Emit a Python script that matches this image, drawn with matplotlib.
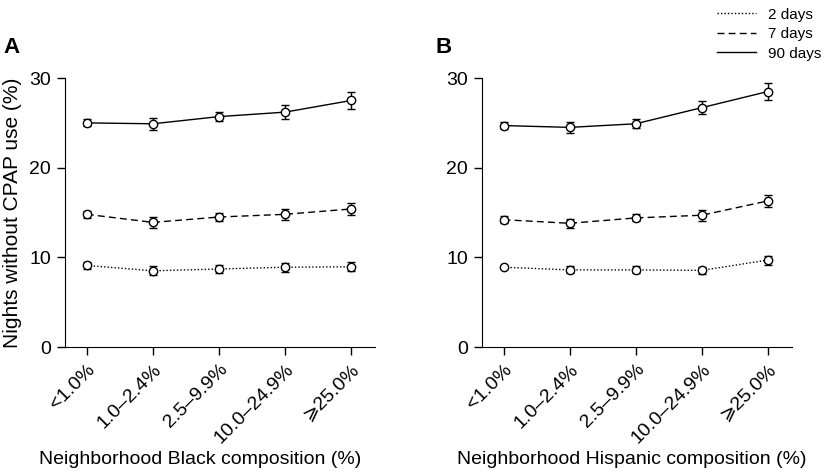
import matplotlib
matplotlib.use("Agg")
import matplotlib.pyplot as plt
from matplotlib.lines import Line2D

plt.rcParams["font.family"] = ["Liberation Sans", "DejaVu Sans"]

categories = ["<1.0%", "1.0\u20132.4%", "2.5\u20139.9%", "10.0\u201324.9%", "\u2a7e25.0%"]

# Panel A: neighborhood Black composition
black_2d = [9.1, 8.5, 8.7, 8.9, 8.95]
black_2d_err = [0.4, 0.5, 0.4, 0.5, 0.5]
black_7d = [14.8, 13.9, 14.5, 14.8, 15.4]
black_7d_err = [0.4, 0.6, 0.5, 0.6, 0.7]
black_90d = [25.0, 24.9, 25.7, 26.2, 27.5]
black_90d_err = [0.4, 0.7, 0.5, 0.8, 0.9]

# Panel B: neighborhood Hispanic composition
hisp_2d = [8.9, 8.6, 8.6, 8.55, 9.7]
hisp_2d_err = [0.1, 0.4, 0.4, 0.4, 0.5]
hisp_7d = [14.2, 13.8, 14.4, 14.7, 16.3]
hisp_7d_err = [0.4, 0.5, 0.4, 0.6, 0.7]
hisp_90d = [24.7, 24.5, 24.9, 26.7, 28.5]
hisp_90d_err = [0.4, 0.6, 0.5, 0.7, 0.9]

styles = [(0, (1, 1.5)), (0, (5, 3)), "-"]
labels = ["2 days", "7 days", "90 days"]

fig = plt.figure(figsize=(8.32, 4.76), dpi=100)
axA = fig.add_axes([0.0781, 0.271, 0.3726, 0.565])
axB = fig.add_axes([0.579, 0.271, 0.3726, 0.565])


def draw_panel(ax, series, errs, xlabel, label_x):
    x = range(len(categories))
    for vals, err, ls in zip(series, errs, styles):
        ax.errorbar(x, vals, yerr=err, color="black", linestyle=ls, linewidth=1.0,
                    marker="o", markersize=6, markerfacecolor="white",
                    markeredgecolor="black", markeredgewidth=1.0,
                    ecolor="black", elinewidth=1.0, capsize=3, capthick=1.0)
    ax.set_xlim(-0.33, 4.36)
    ax.set_ylim(0, 30)
    ax.set_yticks([0, 10, 20, 30])
    ax.set_xticks(list(x))
    ax.set_xticklabels(categories, rotation=45, ha="right", rotation_mode="anchor")
    ax.spines["top"].set_visible(False)
    ax.spines["right"].set_visible(False)
    ax.tick_params(direction="out", length=6, width=1, labelsize=14, pad=4)
    ax.set_xlabel(xlabel, fontsize=14)
    ax.xaxis.set_label_coords(label_x, -0.385)


draw_panel(axA, [black_2d, black_7d, black_90d],
           [black_2d_err, black_7d_err, black_90d_err],
           "Neighborhood Black composition (%)", 0.435)
draw_panel(axB, [hisp_2d, hisp_7d, hisp_90d],
           [hisp_2d_err, hisp_7d_err, hisp_90d_err],
           "Neighborhood Hispanic composition (%)", 0.484)
axA.set_ylabel("Nights without CPAP use (%)", fontsize=15, labelpad=5)

fig.text(0.004, 0.889, "A", fontsize=16, fontweight="bold")
fig.text(0.523, 0.889, "B", fontsize=16, fontweight="bold")

handles = [Line2D([], [], color="black", linestyle=ls, linewidth=1.0) for ls in styles]
fig.legend(handles, labels, loc="upper right", bbox_to_anchor=(0.997, 1.0),
           frameon=False, fontsize=11, handlelength=2.6, handletextpad=0.8,
           labelspacing=0.36, borderpad=0)

fig.savefig("out.png", dpi=100)
